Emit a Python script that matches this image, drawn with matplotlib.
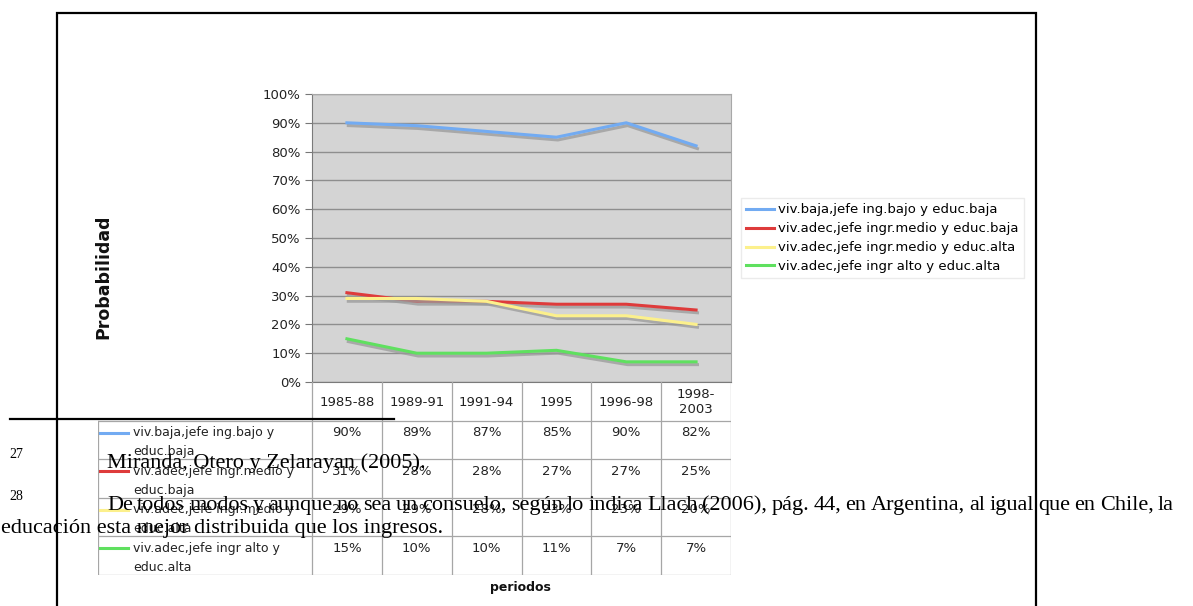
import numpy as np
import matplotlib
matplotlib.use("Agg")
import matplotlib.pyplot as plt
import matplotlib.patheffects as pe

# data
periodos = ["1985-88", "1989-91", "1991-94", "1995", "1996-98", "1998-\n2003"]
series_names = ["viv.baja,jefe ing.bajo y educ.baja",
                "viv.adec,jefe ingr.medio y educ.baja",
                "viv.adec,jefe ingr.medio y educ.alta",
                "viv.adec,jefe ingr alto y educ.alta"]
table_labels = ["viv.baja,jefe ing.bajo y\neduc.baja",
                "viv.adec,jefe ingr.medio y\neduc.baja",
                "viv.adec,jefe ingr.medio y\neduc.alta",
                "viv.adec,jefe ingr alto y\neduc.alta"]
baja_bajo = [90, 89, 87, 85, 90, 82]
medio_baja = [31, 28, 28, 27, 27, 25]
medio_alta = [29, 29, 28, 23, 23, 20]
alto_alta = [15, 10, 10, 11, 7, 7]
colors = ["#72abf2", "#de3b3b", "#fcf08c", "#5fe05f"]
yticks = list(range(0, 101, 10))

note_27 = "Miranda, Otero y Zelarayan (2005)."
note_28_a = ("De todos modos y aunque no sea un consuelo, según lo indica Llach (2006), "
             "pág. 44, en Argentina, al igual que en Chile, la")
note_28_b = "educación esta mejor distribuida que los ingresos."

W, H = 1193, 606
def box(x0, y0, x1, y1):
    return [x0 / W, 1 - y1 / H, (x1 - x0) / W, (y1 - y0) / H]

fig = plt.figure(figsize=(W / 100, H / 100), dpi=100)
fig.patch.set_facecolor("white")

# main chart
ax = fig.add_axes(box(312, 94, 731, 382))
ax.set_facecolor("#d4d4d4")
x = np.arange(len(periodos))
all_series = [baja_bajo, medio_baja, medio_alta, alto_alta]
shadow = [pe.SimpleLineShadow(offset=(1, -2), shadow_color="#9a9a9a", alpha=0.75), pe.Normal()]
for name, vals, col in zip(series_names, all_series, colors):
    ax.plot(x, vals, color=col, lw=2.2, label=name, path_effects=shadow, zorder=3)
ax.set_xlim(-0.5, len(periodos) - 0.5)
ax.set_ylim(0, 100)
ax.set_yticks(yticks)
ax.set_yticklabels([f"{v}%" for v in yticks])
ax.set_xticks([])
ax.yaxis.grid(True, color="#8e8e8e", lw=1.0)
ax.set_axisbelow(True)
ax.tick_params(axis="y", length=5, color="#777777", labelsize=9.5, pad=3, labelcolor="#222222")
for s in ["left", "bottom"]:
    ax.spines[s].set_color("#7a7a7a")
for s in ["top", "right"]:
    ax.spines[s].set_color("#a8a8a8")

handles, labels = ax.get_legend_handles_labels()
leg = fig.legend(handles, labels, loc="upper left", bbox_to_anchor=(741 / W, 1 - 198 / H),
                 fontsize=9.5, frameon=True, fancybox=False, edgecolor="#e6e6e6",
                 handlelength=2.1, handletextpad=0.3, labelspacing=0.45, borderpad=0.4,
                 borderaxespad=0)
for line in leg.get_lines():
    line.set_path_effects([])
    line.set_linewidth(2.2)

# data table under the chart (shares the category scale of the chart)
unit = (731 - 312) / len(periodos)
xl = -0.5 - (312 - 98) / unit
tab = fig.add_axes(box(98, 382, 731, 575))
tab.set_xlim(xl, len(periodos) - 0.5)
tab.set_ylim(5, 0)
tab.axis("off")
gc = "#a6a6a6"
for r in range(1, 6):
    tab.plot([xl, len(periodos) - 0.5], [r, r], color=gc, lw=0.9)
for k in range(len(periodos) + 1):
    tab.plot([k - 0.5, k - 0.5], [0, 5], color=gc, lw=0.9)
tab.plot([xl, xl], [1, 5], color=gc, lw=0.9)
for i, p in enumerate(periodos):
    tab.text(i, 0.52, p, ha="center", va="center", fontsize=9.5, color="#222222",
             linespacing=1.15)
for r, (lab, vals, col) in enumerate(zip(table_labels, all_series, colors)):
    y1 = 1 + r + 0.31
    y2 = 1 + r + 0.8
    tab.plot([xl + 2 / unit, xl + 30 / unit], [y1, y1], color=col, lw=2.2)
    l1, l2 = lab.split("\n")
    tab.text(xl + 35 / unit, y1, l1, ha="left", va="center", fontsize=9, color="#222222")
    tab.text(xl + 35 / unit, y2, l2, ha="left", va="center", fontsize=9, color="#222222")
    for i, v in enumerate(vals):
        tab.text(i, y1, f"{v}%", ha="center", va="center", fontsize=9.5, color="#222222")

fig.text(520 / W, 1 - 587 / H, "periodos", ha="center", va="center",
         fontsize=9, fontweight="bold", color="#111111")
fig.text(103 / W, 1 - 277 / H, "Probabilidad", ha="center", va="center",
         rotation=90, fontsize=12.5, fontweight="bold", color="#111111")

# page layer: frame, footnote rule and footnote text (pixel units)
page = fig.add_axes([0, 0, 1, 1], zorder=10)
page.set_xlim(0, W)
page.set_ylim(H, 0)
page.axis("off")
page.patch.set_alpha(0)
page.plot([57, 57, 1036, 1036], [H, 13, 13, H], color="black", lw=1.6,
          solid_joinstyle="miter")
page.plot([10, 394], [419, 419], color="black", lw=1.6)
serif = "Liberation Serif"
fs = 16
page.text(9, 455, "27", family=serif, fontsize=10, va="center", ha="left")
page.text(9, 497, "28", family=serif, fontsize=10, va="center", ha="left")
page.text(107, 468, note_27, family=serif, fontsize=fs, va="baseline", ha="left")
page.text(1, 533, note_28_b, family=serif, fontsize=fs, va="baseline", ha="left")

# justified line: spread the words between the two margins
renderer = fig.canvas.get_renderer()
words = note_28_a.split(" ")
objs = [page.text(0, 510, w, family=serif, fontsize=fs, va="baseline", ha="left") for w in words]
widths = [t.get_window_extent(renderer).width for t in objs]
x0, x1 = 107, 1174
gap = (x1 - x0 - sum(widths)) / (len(words) - 1)
pos = x0
for t, w in zip(objs, widths):
    t.set_x(pos)
    pos += w + gap

fig.savefig("out.png", dpi=100)
